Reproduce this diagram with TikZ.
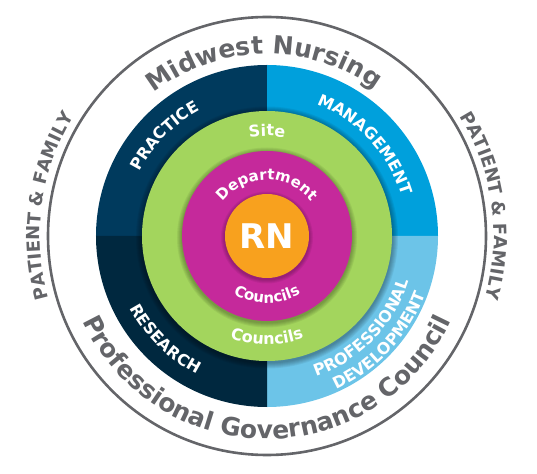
\documentclass[tikz,border=0pt]{standalone}
\usepackage{fontspec}
\setmainfont{DejaVu Sans}
\definecolor{cgrey}{HTML}{646569}
\definecolor{cpractice}{HTML}{003A5D}
\definecolor{cresearch}{HTML}{00283F}
\definecolor{cmanage}{HTML}{00A0DC}
\definecolor{cprofdev}{HTML}{6CC4E8}
\definecolor{cgreen}{HTML}{A3D55D}
\definecolor{cmagenta}{HTML}{C5299B}
\definecolor{corange}{HTML}{F8A11E}
\tikzset{
  shadowring/.style={fill=black, fill opacity=0.06},
  glyphnode/.style={inner sep=0pt, anchor=base},
}
\newcounter{arcch}
\newcommand\measureglyph[2]{% #1 size, #2 glyph -> \wval (pt, with unit)
  \pgfinterruptpicture
    \setbox0=\hbox{\fontsize{#1}{#1}\selectfont\bfseries #2}%
    \xdef\wval{\the\wd0}%
  \endpgfinterruptpicture
}
% #1 colour, #2 font size, #3 baseline radius (pt), #4 centre angle,
% #5 direction (1 = clockwise, tops outward; -1 = counter-clockwise, tops inward), #6 list of glyphs
\newcommand\arclabel[6]{%
  \gdef\arcWtot{0}%
  \foreach \glyph in {#6}{%
    \measureglyph{#2}{\glyph}%
    \pgfmathsetmacro\tmpw{\arcWtot+\wval}%
    \global\let\arcWtot\tmpw
  }%
  \pgfmathsetmacro\arcstart{#4+(#5)*deg(0.5*\arcWtot/#3)}%
  \global\let\arcstartg\arcstart
  \gdef\arcCum{0}%
  \foreach \glyph in {#6}{%
    \measureglyph{#2}{\glyph}%
    \pgfmathsetmacro\ang{\arcstartg-(#5)*deg((\arcCum+0.5*\wval)/#3)}%
    \pgfmathsetmacro\rot{\ang-(#5)*90}%
    \stepcounter{arcch}%
    \node[glyphnode, name=ch\arabic{arcch}, text=#1, rotate=\rot,
          font=\fontsize{#2}{#2}\selectfont\bfseries] at (\ang:#3pt) {\glyph};%
    \pgfmathsetmacro\tmpc{\arcCum+\wval}%
    \global\let\arcCum\tmpc
  }%
}
\begin{document}
\begin{tikzpicture}
\useasboundingbox (-267pt,-237pt) rectangle (270pt,236pt);
% outer grey ring
\draw[cgrey, line width=2.6pt] (0,0) circle[radius=219pt];
% quadrants
\fill[cpractice] (0,0) -- (180:171pt) arc[start angle=180, end angle=90, radius=171pt] -- cycle;
\fill[cmanage] (0,0) -- (90:171pt) arc[start angle=90, end angle=0, radius=171pt] -- cycle;
\fill[cprofdev] (0,0) -- (0:171pt) arc[start angle=0, end angle=-90, radius=171pt] -- cycle;
\fill[cresearch] (0,0) -- (270:171pt) arc[start angle=270, end angle=180, radius=171pt] -- cycle;
% green ring with shadow
\foreach \d in {1,2,3,4,5,6}{\fill[shadowring] (0,-1.5pt) circle[radius=125pt+\d pt];}
\fill[cgreen] (0,0) circle[radius=125pt];
% magenta ring with shadow
\foreach \d in {1,2,3,4,5}{\fill[shadowring] (0,-1.5pt) circle[radius=85pt+\d pt];}
\fill[cmagenta] (0,0) circle[radius=85pt];
% orange centre with shadow
\foreach \d in {1,2,3,4}{\fill[shadowring] (0,-1.5pt) circle[radius=42pt+\d pt];}
\fill[corange] (0,0) circle[radius=42pt];
\node[inner sep=0pt, text=white, font=\fontsize{34}{34}\selectfont\bfseries] (rn) at (0,0) {RN};
% outer texts
\arclabel{cgrey}{25}{182}{91}{1}{M,i,d,w,e,s,t,{\ },N,u,r,s,i,n,g}
\arclabel{cgrey}{25}{203}{270}{-1}{P,r,o,f,e,s,s,i,o,n,a,l,{\ },G,o,v,e,r,n,a,n,c,e,{\ },C,o,u,n,c,i,l}
\arclabel{cgrey}{18}{227}{172}{1}{P,A,T,I,E,N,T,{\ },\&,{\ },F,A,M,I,L,Y}
\arclabel{cgrey}{18}{227}{8}{1}{P,A,T,I,E,N,T,{\ },\&,{\ },F,A,M,I,L,Y}
% quadrant texts
\arclabel{white}{16}{142.5}{135.7}{1}{P,R,A,C,T,I,C,E}
\arclabel{white}{16}{140.5}{43}{1}{M,A,N,A,G,E,M,E,N,T}
\arclabel{white}{16}{155}{225.4}{-1}{R,E,S,E,A,R,C,H}
\arclabel{white}{16}{149}{315.8}{-1}{P,R,O,F,E,S,S,I,O,N,A,L}
\arclabel{white}{16}{168.5}{317}{-1}{D,E,V,E,L,O,P,M,E,N,T}
% inner ring texts
\arclabel{white}{16}{100}{90}{1}{S,i,t,e}
\arclabel{white}{16}{108.5}{270}{-1}{C,o,u,n,c,i,l,s}
\arclabel{white}{15}{56}{90}{1}{D,e,p,a,r,t,m,e,n,t}
\arclabel{white}{15}{67}{270}{-1}{C,o,u,n,c,i,l,s}
\end{tikzpicture}
\end{document}
